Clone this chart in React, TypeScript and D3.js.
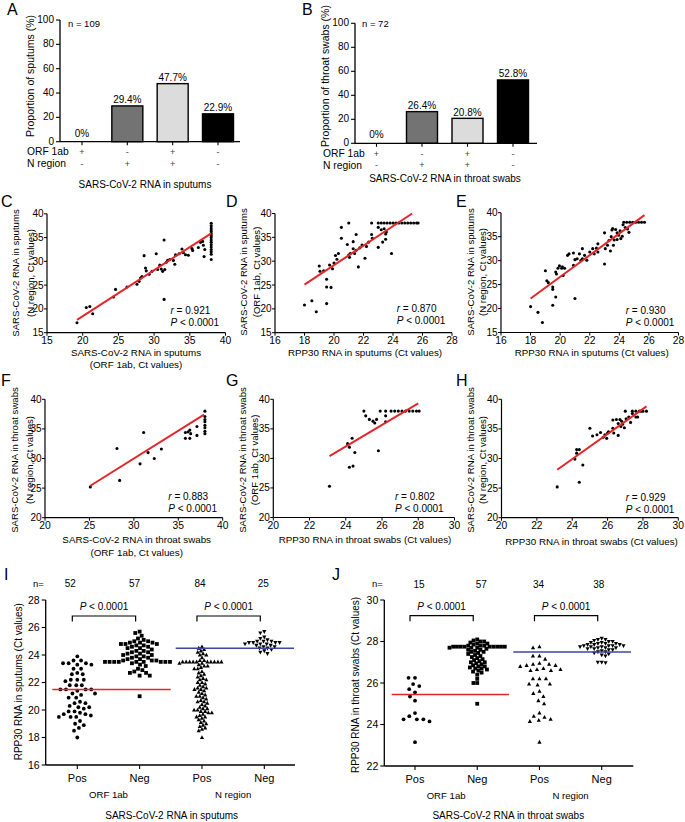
import React from "react";
import * as d3 from "d3";

const FONT = "'Liberation Sans', Arial, Helvetica, sans-serif";
const RED = "#e4262b";
const BLUE = "#3b47a6";

// ---------------- Panels A / B data ----------------
const barGroups = ["ORF+N-", "ORF-N+", "ORF+N+", "ORF-N-"];
const orfSigns = ["+", "-", "+", "-"];
const nSigns = ["-", "+", "+", "-"];
const sputumPct = [0, 29.4, 47.7, 22.9];
const throatPct = [0, 26.4, 20.8, 52.8];
const barFills = ["#ffffff", "#737373", "#dcdcdc", "#000000"];
const pctTicks = [0, 20, 40, 60, 80, 100];

// ---------------- Panels C-H data ----------------
const cPoints: [number, number][] = [
  [19.2, 17.1], [20.5, 20.3], [21.0, 20.5], [21.4, 19.0], [24.3, 22.5], [24.6, 24.1], [26.2, 24.6],
  [27.6, 25.2], [27.9, 25.8], [28.1, 26.5], [28.3, 26.8], [28.6, 31.2], [28.8, 28.6], [28.9, 28.0],
  [29.3, 27.3], [29.7, 27.9], [30.3, 31.6], [30.5, 28.3], [30.8, 29.2], [31.0, 28.4], [31.2, 27.9],
  [31.4, 34.5], [31.4, 22.0], [31.5, 28.3], [31.7, 29.8], [31.9, 30.2], [32.2, 30.4], [32.7, 30.2],
  [32.9, 29.4], [33.0, 31.4], [33.5, 31.6], [33.9, 32.6], [34.1, 31.8], [34.4, 31.4], [34.8, 31.3],
  [35.3, 32.7], [35.4, 32.3], [36.2, 32.9], [36.5, 34.0], [36.8, 34.2], [36.9, 33.4], [37.0, 31.0],
  [37.1, 32.5], [38, 38.0], [38, 37.5], [38, 37.0], [38, 36.6], [38, 36.2], [38, 35.8], [38, 35.4],
  [38, 35.0], [38, 34.5], [38, 34.0], [38, 33.5], [38, 33.0], [38, 32.5], [38, 32.0], [38, 31.5], [38, 30.4],
];
const cFit: [number, number][] = [[19.2, 17.7], [38, 35.9]];

const dPoints: [number, number][] = [
  [18.0, 20.8], [18.5, 21.7], [18.8, 19.4], [19.0, 29.0], [19.05, 27.9], [19.3, 28.0], [19.5, 26.2],
  [19.5, 24.6], [19.5, 21.1], [19.8, 24.5], [19.7, 29.2], [19.9, 28.4], [20.0, 29.6], [20.1, 31.2],
  [20.2, 30.4], [20.3, 31.6], [20.5, 37.1], [20.5, 34.8], [20.9, 33.5], [21.0, 38.0], [21.0, 31.3],
  [21.1, 31.6], [21.05, 30.8], [21.3, 34.1], [21.3, 32.6], [21.4, 31.6], [21.5, 32.3], [21.5, 35.6],
  [21.65, 28.8], [21.75, 32.8], [21.9, 33.4], [22.1, 30.6], [22.2, 33.1], [22.35, 34.0], [22.55, 35.6],
  [22.6, 34.8], [22.55, 38.0], [23.0, 37.1], [23.0, 32.9], [23.2, 36.6], [23.3, 34.0], [23.4, 36.8],
  [23.5, 35.7], [23.5, 34.6], [23.55, 36.1], [23.9, 31.6],
  [23.0, 38], [23.2, 38], [23.4, 38], [23.6, 38], [23.8, 38], [24.0, 38], [24.2, 38], [24.4, 38],
  [24.6, 38], [24.8, 38], [25.0, 38], [25.2, 38], [25.4, 38], [25.6, 38], [25.7, 38],
];
const dFit: [number, number][] = [[18.0, 25.1], [25.3, 40.0]];

const ePoints: [number, number][] = [
  [18.0, 20.4], [18.5, 19.2], [18.8, 17.1], [19.0, 27.9], [19.1, 25.8], [19.2, 25.4], [19.5, 24.5],
  [19.5, 24.0], [19.5, 20.7], [19.7, 22.4], [19.75, 27.2], [19.7, 27.6], [19.85, 28.4], [19.95, 28.9],
  [20.1, 28.4], [20.15, 28.7], [20.3, 28.4], [20.2, 26.9], [20.5, 31.1], [20.6, 31.4], [20.9, 31.6],
  [20.9, 29.0], [21.0, 30.2], [21.0, 22.1], [21.15, 30.4], [21.3, 31.4], [21.4, 30.0], [21.5, 30.4],
  [21.5, 32.5], [21.65, 31.1], [21.8, 30.1], [22.0, 31.8], [22.2, 32.5], [22.3, 31.4], [22.45, 32.6],
  [22.55, 33.5], [22.55, 31.8], [23.0, 29.3], [23.0, 35.8], [23.05, 32.5], [23.2, 33.2], [23.3, 34.2],
  [23.4, 32.0], [23.45, 35.0], [23.5, 36.4], [23.55, 36.7], [23.6, 33.2], [23.65, 34.3], [23.75, 36.5],
  [23.85, 35.8], [23.85, 34.4], [23.95, 35.3], [24.05, 36.2], [24.1, 34.6], [24.2, 35.1], [24.25, 37.5],
  [24.4, 36.9], [24.55, 36.6], [24.65, 35.9],
  [24.3, 38], [24.5, 38], [24.7, 38], [24.9, 38], [25.1, 38], [25.3, 38], [25.5, 38], [25.7, 38],
];
const eFit: [number, number][] = [[18.0, 22.1], [25.7, 39.5]];

const fPoints: [number, number][] = [
  [25.1, 25.2], [28.1, 31.7], [28.4, 26.3], [30.7, 29.1], [31.1, 34.4], [31.6, 31.0], [32.3, 30.0],
  [33.1, 31.6], [35.8, 34.4], [35.8, 33.4], [36.1, 34.5], [36.3, 34.8], [36.4, 34.2], [36.3, 33.4],
  [37.1, 35.4], [37.1, 33.9], [38, 38.0], [38, 37.1], [38, 36.6], [38, 36.2], [38, 35.6], [38, 35.2],
  [38, 34.6], [38, 34.2],
];
const fFit: [number, number][] = [[25.1, 25.4], [37.9, 37.4]];

const gPoints: [number, number][] = [
  [23.1, 25.3], [24.1, 32.5], [24.2, 31.9], [24.2, 28.5], [24.35, 33.4], [24.4, 28.7], [24.5, 31.0],
  [25.0, 38.0], [25.1, 37.2], [25.3, 36.6], [25.5, 36.3], [25.6, 36.0], [25.7, 36.6], [25.8, 31.3],
  [25.9, 38.0], [26.2, 37.2], [26.2, 36.2], [26.2, 38.0],
  [26.5, 38], [26.7, 38], [26.9, 38], [27.1, 38], [27.3, 38], [27.5, 38], [27.7, 38], [27.9, 38], [28.05, 38],
];
const gFit: [number, number][] = [[23.1, 30.4], [28.0, 39.3]];

const hPoints: [number, number][] = [
  [23.15, 25.2], [24.15, 29.9], [24.25, 31.5], [24.25, 30.9], [24.4, 31.5], [24.4, 26.0], [24.6, 28.9],
  [25.0, 35.1], [25.15, 33.8], [25.4, 34.0], [25.6, 34.4], [25.75, 33.6], [25.85, 34.0], [25.95, 33.4],
  [26.0, 34.3], [26.05, 34.5], [26.3, 36.5], [26.3, 35.1], [26.35, 34.3], [26.5, 36.6], [26.6, 35.9],
  [26.6, 33.9], [26.7, 36.6], [26.75, 35.4], [26.8, 36.3], [26.85, 35.8], [26.95, 35.2], [27.0, 38.0],
  [27.05, 36.7], [27.2, 37.0], [27.3, 36.1], [27.4, 37.6], [27.6, 37.0], [27.7, 37.0], [27.8, 38.0],
  [27.4, 38], [27.6, 38], [27.9, 38], [28.0, 38], [28.2, 38],
];
const hFit: [number, number][] = [[23.15, 28.1], [28.2, 38.8]];

const ticksC = [15, 20, 25, 30, 35, 40];
const ticks16to28 = [16, 18, 20, 22, 24, 26, 28];
const ticks20to40 = [20, 25, 30, 35, 40];
const ticks20to30 = [20, 22, 24, 26, 28, 30];

// ---------------- Panels I / J data ----------------
const dotCats = ["ORF Pos", "ORF Neg", "N Pos", "N Neg"];
const dotCatLabels = ["Pos", "Neg", "Pos", "Neg"];
const sputumN = [52, 57, 84, 25];
const throatN = [15, 57, 34, 38];

const iOrfPos = [
  23.9, 23.6, 23.6, 23.4, 23.4, 23.4, 23.3, 23.3, 23.0, 23.0, 22.7, 22.6, 22.6, 22.2, 22.2, 22.2, 22.1,
  21.8, 21.8, 21.8, 21.5, 21.5, 21.5, 21.5, 21.4, 21.2, 21.2, 21.1, 20.9, 20.9, 20.6, 20.5, 20.5, 20.2,
  20.2, 20.1, 19.9, 19.9, 19.8, 19.7, 19.7, 19.6, 19.5, 19.5, 19.5, 19.2, 19.0, 18.9, 18.7, 18.5, 18.0, 20.3,
];
const iOrfNeg = [
  25.7, 25.6, 25.4, 25.2, 25.1, 25.0, 25.0, 24.9, 24.9, 24.9, 24.8, 24.8, 24.8, 24.7, 24.7, 24.6, 24.6,
  24.5, 24.5, 24.4, 24.3, 24.3, 24.2, 24.2, 24.1, 24.1, 24.0, 24.0, 23.9, 23.9, 23.8, 23.8, 23.7, 23.7,
  23.6, 23.6, 23.6, 23.5, 23.5, 23.5, 23.5, 23.5, 23.5, 23.5, 23.5, 23.5, 23.4, 23.3, 23.2, 23.0, 22.9,
  22.8, 22.7, 22.7, 22.5, 22.5, 21.0,
];
const iNPos = [
  24.6, 24.5, 24.4, 24.3, 24.2, 24.1, 24.0, 24.0, 23.8, 23.6, 23.6,
  23.5, 23.5, 23.5, 23.5, 23.5, 23.5, 23.5, 23.5, 23.5, 23.5, 23.4, 23.4,
  23.3, 23.2, 23.2, 23.1, 23.0, 23.0, 22.8, 22.6, 22.5, 22.3, 22.2, 22.2, 22.0, 22.0,
  21.9, 21.8, 21.7, 21.6, 21.5, 21.5, 21.4, 21.3, 21.2, 21.1, 21.0, 21.0,
  20.9, 20.8, 20.7, 20.6, 20.5, 20.4, 20.3, 20.2, 20.1, 20.0, 20.0,
  19.9, 19.8, 19.8, 19.7, 19.6, 19.5, 19.5, 19.4, 19.3, 19.2, 19.1, 19.0,
  18.9, 18.8, 18.7, 18.6, 18.5, 18.0, 22.7, 22.4, 21.6, 20.6, 19.9, 20.1,
];
const iNNeg = [
  25.7, 25.6, 25.3, 25.2, 25.1, 25.0, 25.0, 25.0, 24.9, 24.9, 24.9, 24.9, 24.8, 24.8, 24.8, 24.7, 24.7,
  24.6, 24.6, 24.5, 24.5, 24.4, 24.3, 24.2, 24.1,
];
const iMeans = [21.5, 24.5];

const jOrfPos = [26.25, 26.25, 25.95, 25.85, 25.7, 25.55, 25.35, 25.15, 24.55, 24.4, 24.25, 24.25, 24.25, 24.15, 23.15];
const jOrfNeg = [
  28.1, 28.05, 28.0, 28.0, 27.95, 27.9, 27.9, 27.85, 27.8, 27.8, 27.8, 27.75, 27.75, 27.75, 27.75, 27.75,
  27.75, 27.75, 27.75, 27.75, 27.7, 27.7, 27.7, 27.65, 27.6, 27.6, 27.5, 27.5, 27.45, 27.4, 27.35, 27.3,
  27.25, 27.2, 27.15, 27.1, 27.0, 27.0, 26.95, 26.9, 26.85, 26.8, 26.8, 26.75, 26.7, 26.65, 26.6, 26.55,
  26.5, 26.4, 26.2, 26.0, 26.0, 25.0, 27.55, 27.05, 26.7,
];
const jNPos = [
  27.7, 27.75, 27.3, 27.15, 27.3, 26.95, 26.85, 26.9, 26.85, 26.9, 26.65, 26.6, 26.65, 26.6, 26.7, 26.2,
  26.2, 26.2, 25.95, 25.9, 25.95, 25.6, 25.5, 25.35, 25.15, 25.0, 24.55, 24.25, 24.35, 24.4, 24.2, 24.15,
  23.15, 26.8,
];
const jNNeg = [
  28.15, 28.1, 28.1, 28.05, 28.0, 28.0, 27.95, 27.95, 27.9, 27.9, 27.9, 27.85, 27.85, 27.8, 27.8, 27.8,
  27.8, 27.75, 27.75, 27.75, 27.7, 27.7, 27.7, 27.65, 27.65, 27.6, 27.6, 27.55, 27.5, 27.5, 27.45, 27.4,
  27.35, 27.3, 27.0, 27.0, 26.98, 27.85,
];
const jMeans = [25.45, 27.5];

const ticksI = [16, 18, 20, 22, 24, 26, 28];
const ticksJ = [22, 24, 26, 28, 30];

// ---------------- helpers ----------------
const T = (props: any) => <text fontFamily={FONT} fill="#000" {...props} />;

function swarm(values: number[], y: (v: number) => number, d: number) {
  const pts = values.map((v) => ({ v, py: y(v), dx: 0 })).sort((a, b) => a.py - b.py);
  const placed: { py: number; dx: number }[] = [];
  for (const p of pts) {
    const near = placed.filter((q) => Math.abs(q.py - p.py) < d);
    const ivs = near.map((q) => {
      const w = Math.sqrt(d * d - (q.py - p.py) ** 2);
      return [q.dx - w, q.dx + w];
    });
    const cands = [0];
    ivs.forEach(([a, b]) => cands.push(a, b));
    cands.sort((a, b) => Math.abs(a) - Math.abs(b) || a - b);
    let best = 0;
    for (const c of cands) {
      if (ivs.every(([a, b]) => c <= a + 1e-6 || c >= b - 1e-6)) { best = c; break; }
    }
    p.dx = best;
    placed.push(p);
  }
  return pts;
}

function Marker({ shape, x, y, s }: { shape: string; x: number; y: number; s: number }) {
  if (shape === "circle") return <circle cx={x} cy={y} r={s * 0.5} fill="#000" />;
  if (shape === "square") return <rect x={x - s / 2} y={y - s / 2} width={s} height={s} fill="#000" />;
  if (shape === "up")
    return <path d={`M${x},${y - s * 0.6}L${x + s * 0.55},${y + s * 0.4}L${x - s * 0.55},${y + s * 0.4}Z`} fill="#000" />;
  return <path d={`M${x},${y + s * 0.6}L${x + s * 0.55},${y - s * 0.4}L${x - s * 0.55},${y - s * 0.4}Z`} fill="#000" />;
}

// ---------------- Bar panel ----------------
function BarPanel(props: any) {
  const { L, values, yLabel, title, n } = props;
  const x = d3.scalePoint().domain(barGroups).range(L.cx);
  const y = d3.scaleLinear().domain([0, 100]).range(L.y);
  const x0 = L.axisX[0];
  const bw = 31;
  return (
    <g>
      <T x={L.letter[0]} y={L.letter[1]} fontSize={16}>{L.name}</T>
      <T x={0} y={0} fontSize={10.5} textAnchor="middle" dy="0.35em"
        transform={`translate(${L.yLabelX},${L.yLabelY}) rotate(-90)`}>{yLabel}</T>
      <T x={L.nPos[0]} y={L.nPos[1]} fontSize={9.5} dy="0.35em">{n}</T>
      {barGroups.map((g, i) =>
        values[i] > 0 ? (
          <rect key={g} x={(x(g) as number) - bw / 2} y={y(values[i])} width={bw}
            height={y(0) - y(values[i])} fill={barFills[i]} stroke="#000" strokeWidth={1.4} />
        ) : null
      )}
      {barGroups.map((g, i) => (
        <T key={"l" + g} x={x(g)} y={y(values[i]) - (values[i] > 0 ? 6 : 8.5)} fontSize={10} textAnchor="middle" dy="0.35em">
          {values[i] + "%"}
        </T>
      ))}
      <line x1={x0} x2={L.axisX[1]} y1={y(0)} y2={y(0)} stroke="#000" strokeWidth={1.3} />
      <line x1={x0} x2={x0} y1={y(0)} y2={y(100)} stroke="#000" strokeWidth={1.3} />
      {pctTicks.map((t) => (
        <g key={t}>
          <line x1={x0 - 4} x2={x0} y1={y(t)} y2={y(t)} stroke="#000" strokeWidth={1.1} />
          <T x={x0 - 6} y={y(t) - 0.5} fontSize={10} textAnchor="end" dy="0.35em">{t}</T>
        </g>
      ))}
      {barGroups.map((g) => (
        <line key={"t" + g} x1={x(g)} x2={x(g)} y1={y(0)} y2={y(0) + 3.5} stroke="#000" strokeWidth={1.1} />
      ))}
      <T x={L.rowX} y={L.row1} fontSize={10.3} dy="0.35em">ORF 1ab</T>
      <T x={L.rowX} y={L.row2} fontSize={10.3} dy="0.35em">N region</T>
      {barGroups.map((g, i) => (
        <g key={"s" + g}>
          <T x={x(g)} y={L.row1} fontSize={9} fill="#444" textAnchor="middle" dy="0.35em">{orfSigns[i]}</T>
          <T x={x(g)} y={L.row2} fontSize={9} fill="#444" textAnchor="middle" dy="0.35em">{nSigns[i]}</T>
        </g>
      ))}
      <T x={L.title[0]} y={L.title[1]} fontSize={10} textAnchor="middle" dy="0.35em">{title}</T>
    </g>
  );
}

// ---------------- Scatter panel ----------------
function Scatter(props: any) {
  const { L, points, fit, xTicks, yTicks, r, yLabel, xLabel } = props;
  const x = d3.scaleLinear().domain(L.xDomain).range(L.xRange);
  const y = d3.scaleLinear().domain(L.yDomain).range(L.yRange);
  const x0 = L.xRange[0];
  const y0 = L.yRange[0];
  const line = d3.line<[number, number]>().x((d) => x(d[0])).y((d) => y(d[1]));
  return (
    <g>
      <T x={L.letter[0]} y={L.letter[1]} fontSize={16}>{L.name}</T>
      <line x1={x0} x2={L.xRange[1]} y1={y0} y2={y0} stroke="#000" strokeWidth={1.2} />
      <line x1={x0} x2={x0} y1={y0} y2={L.yRange[1]} stroke="#000" strokeWidth={1.2} />
      {xTicks.map((t: number) => (
        <g key={"x" + t}>
          <line x1={x(t)} x2={x(t)} y1={y0} y2={y0 + 3} stroke="#000" strokeWidth={1} />
          <T x={x(t)} y={y0 + 8} fontSize={10.3} textAnchor="middle" dy="0.35em">{t}</T>
        </g>
      ))}
      {yTicks.map((t: number) => (
        <g key={"y" + t}>
          <line x1={x0 - 3} x2={x0} y1={y(t)} y2={y(t)} stroke="#000" strokeWidth={1} />
          <T x={x0 - 3.5} y={y(t)} fontSize={10} textAnchor="end" dy="0.35em">{t}</T>
        </g>
      ))}
      {points.map((p: [number, number], i: number) => (
        <circle key={i} cx={x(p[0])} cy={y(p[1])} r={1.55} fill="#000" />
      ))}
      <path d={line(fit) as string} stroke={RED} strokeWidth={2} fill="none" />
      <T x={L.rPos[0]} y={L.rPos[1]} fontSize={10} dy="0.35em">
        <tspan fontStyle="italic">r</tspan> = {r}
      </T>
      <T x={L.rPos[0]} y={L.rPos[1] + 12} fontSize={10} dy="0.35em">
        <tspan fontStyle="italic">P</tspan> &lt; 0.0001
      </T>
      {yLabel.map((s: string, i: number) => (
        <T key={"yl" + i} x={0} y={0} fontSize={9.6} textAnchor="middle" dy="0.35em"
          transform={`translate(${L.yLab[i]},${L.yLabY}) rotate(-90)`}>{s}</T>
      ))}
      {xLabel.map((s: string, i: number) => (
        <T key={"xl" + i} x={L.xLab[0]} y={L.xLab[1] + i * 12.5} fontSize={9.8} textAnchor="middle" dy="0.35em">{s}</T>
      ))}
    </g>
  );
}

// ---------------- Dot plot panel ----------------
function DotPanel(props: any) {
  const { L, groups, means, nVals, yTicks, yLabel, title } = props;
  const x = d3.scalePoint().domain(dotCats).range(L.cx);
  const y = d3.scaleLinear().domain(L.yDomain).range(L.yRange);
  const x0 = L.axisX[0];
  const y0 = L.yRange[0];
  const brackets = [[0, 1], [2, 3]];
  return (
    <g>
      <T x={L.letter[0]} y={L.letter[1]} fontSize={16}>{L.name}</T>
      <T x={L.nLabelX} y={L.nY} fontSize={9.5} dy="0.35em">n=</T>
      {dotCats.map((c, i) => (
        <T key={"n" + c} x={(x(c) as number) + L.nShift[i]} y={L.nY} fontSize={10} textAnchor="middle" dy="0.35em">{nVals[i]}</T>
      ))}
      <line x1={x0} x2={L.axisX[1]} y1={y0} y2={y0} stroke="#000" strokeWidth={1.3} />
      <line x1={x0} x2={x0} y1={y0} y2={L.yRange[1]} stroke="#000" strokeWidth={1.3} />
      {yTicks.map((t: number) => (
        <g key={"y" + t}>
          <line x1={x0 - 4} x2={x0} y1={y(t)} y2={y(t)} stroke="#000" strokeWidth={1.1} />
          <T x={x0 - 6} y={y(t)} fontSize={10.5} textAnchor="end" dy="0.35em">{t}</T>
        </g>
      ))}
      {dotCats.map((c, i) => (
        <g key={"c" + c}>
          <line x1={x(c)} x2={x(c)} y1={y0} y2={y0 + 4} stroke="#000" strokeWidth={1.1} />
          <T x={x(c)} y={y0 + 13} fontSize={11} textAnchor="middle" dy="0.35em">{dotCatLabels[i]}</T>
        </g>
      ))}
      <T x={((x(dotCats[0]) as number) + (x(dotCats[1]) as number)) / 2} y={y0 + 29.5} fontSize={9.6} textAnchor="middle" dy="0.35em">ORF 1ab</T>
      <T x={((x(dotCats[2]) as number) + (x(dotCats[3]) as number)) / 2} y={y0 + 29.5} fontSize={9.6} textAnchor="middle" dy="0.35em">N region</T>
      <T x={L.title[0]} y={L.title[1]} fontSize={10} textAnchor="middle" dy="0.35em">{title}</T>
      <T x={0} y={0} fontSize={10} textAnchor="middle" dy="0.35em"
        transform={`translate(${L.yLabelX},${L.yLabelY}) rotate(-90)`}>{yLabel}</T>
      {groups.map((g: any, gi: number) => {
        const cx = x(dotCats[gi]) as number;
        return swarm(g.values, y, g.d).map((p, k) => (
          <Marker key={gi + "-" + k} shape={g.shape} x={cx + p.dx} y={p.py} s={g.s} />
        ));
      })}
      <line x1={L.meanX[0][0]} x2={L.meanX[0][1]} y1={y(means[0])} y2={y(means[0])} stroke={RED} strokeWidth={1.5} />
      <line x1={L.meanX[1][0]} x2={L.meanX[1][1]} y1={y(means[1])} y2={y(means[1])} stroke={BLUE} strokeWidth={1.5} />
      {brackets.map(([a, b], i) => {
        const xa = (x(dotCats[a]) as number) - 5;
        const xb = (x(dotCats[b]) as number) - 4;
        const top = L.bracketY;
        return (
          <g key={"b" + i}>
            <path d={`M${xa},${top + 5.5}V${top}H${xb}V${top + 5.5}`} fill="none" stroke="#000" strokeWidth={1.2} />
            <T x={(xa + xb) / 2} y={top - 9.5} fontSize={10} textAnchor="middle" dy="0.35em">
              <tspan fontStyle="italic">P</tspan> &lt; 0.0001
            </T>
          </g>
        );
      })}
    </g>
  );
}

// ---------------- layouts ----------------
const LA = { name: "A", letter: [7, 15], cx: [82, 218], y: [141.7, 20], axisX: [60, 240], yLabelX: 30, yLabelY: 76, nPos: [68, 24], rowX: 27, row1: 151.5, row2: 163.5, title: [145, 184] };
const LB = { name: "B", letter: [302, 15], cx: [376.5, 513], y: [143.3, 23.3], axisX: [355, 537], yLabelX: 325, yLabelY: 76, nPos: [362, 24], rowX: 323, row1: 153.5, row2: 165, title: [445, 178] };

const LC = { name: "C", letter: [1, 207], xDomain: [15, 40], yDomain: [15, 40], xRange: [47, 225.5], yRange: [332.7, 213.8], rPos: [170.5, 310.7], yLab: [15.5, 30.5], yLabY: 273, xLab: [136, 352.3] };
const LD = { name: "D", letter: [226, 207], xDomain: [16, 28], yDomain: [15, 40], xRange: [275, 452], yRange: [332.7, 213.5], rPos: [396.7, 308.5], yLab: [244, 256.5], yLabY: 272, xLab: [365, 352.3] };
const LE = { name: "E", letter: [456, 207], xDomain: [16, 28], yDomain: [15, 40], xRange: [501, 678.5], yRange: [332.5, 212.7], rPos: [625.7, 310.7], yLab: [470.5, 482.5], yLabY: 272, xLab: [591.7, 352.3] };
const LF = { name: "F", letter: [1, 386], xDomain: [20, 40], yDomain: [20, 40], xRange: [45, 222.7], yRange: [517.7, 399.3], rPos: [168.3, 496.7], yLab: [14.5, 29.5], yLabY: 460, xLab: [136.7, 540] };
const LG = { name: "G", letter: [226, 386], xDomain: [20, 30], yDomain: [20, 40], xRange: [273.3, 454.5], yRange: [517.5, 399.3], rPos: [395, 496.7], yLab: [242.3, 255], yLabY: 460, xLab: [365, 539.5] };
const LH = { name: "H", letter: [456, 386], xDomain: [20, 30], yDomain: [20, 40], xRange: [501.5, 678.3], yRange: [517.7, 399.3], rPos: [625.7, 497.3], yLab: [470.5, 482.5], yLabY: 460, xLab: [591.5, 541.7] };

const LI = { name: "I", letter: [4, 580], cx: [77.3, 264.3], yDomain: [16, 28], yRange: [765, 600], axisX: [45.7, 295], nLabelX: 33, nY: 583.7, nShift: [-7, -5, -2, -1], meanX: [[52.3, 170.7], [175.7, 294]], bracketY: 616, title: [171.7, 815], yLabelX: 18.3, yLabelY: 681.7 };
const LJ = { name: "J", letter: [332, 580], cx: [415, 601.7], yDomain: [22, 30], yRange: [766, 600], axisX: [384.3, 633.3], nLabelX: 372, nY: 584, nShift: [4, 4, -1, -3], meanX: [[391.7, 509], [513.3, 631]], bracketY: 615.7, title: [508.3, 815], yLabelX: 355, yLabelY: 685 };

export default function App() {
  const iGroups = [
    { values: iOrfPos, shape: "circle", s: 3.8, d: 5.6 },
    { values: iOrfNeg, shape: "square", s: 3.8, d: 4.6 },
    { values: iNPos, shape: "up", s: 3.8, d: 3.5 },
    { values: iNNeg, shape: "down", s: 3.8, d: 4.2 },
  ];
  const jGroups = [
    { values: jOrfPos, shape: "circle", s: 3.8, d: 6.5 },
    { values: jOrfNeg, shape: "square", s: 3.8, d: 3.8 },
    { values: jNPos, shape: "up", s: 3.8, d: 6.5 },
    { values: jNNeg, shape: "down", s: 3.8, d: 3.9 },
  ];
  return (
    <svg width={685} height={822} viewBox="0 0 685 822"
      style={{ position: "absolute", left: 0, top: 0, background: "#fff" }}>
      <rect width={685} height={822} fill="#fff" />
      <BarPanel L={LA} values={sputumPct} yLabel="Proportion of sputums (%)" title="SARS-CoV-2 RNA in sputums" n="n = 109" />
      <BarPanel L={LB} values={throatPct} yLabel="Proportion of throat swabs (%)" title="SARS-CoV-2 RNA in throat swabs" n="n = 72" />

      <Scatter L={LC} points={cPoints} fit={cFit} xTicks={ticksC} yTicks={ticksC} r="0.921"
        yLabel={["SARS-CoV-2 RNA in sputums", "(N region, Ct values)"]}
        xLabel={["SARS-CoV-2 RNA in sputums", "(ORF 1ab, Ct values)"]} />
      <Scatter L={LD} points={dPoints} fit={dFit} xTicks={ticks16to28} yTicks={ticksC} r="0.870"
        yLabel={["SARS-CoV-2 RNA in sputums", "(ORF 1ab, Ct values)"]}
        xLabel={["RPP30 RNA in sputums (Ct values)"]} />
      <Scatter L={LE} points={ePoints} fit={eFit} xTicks={ticks16to28} yTicks={ticksC} r="0.930"
        yLabel={["SARS-CoV-2 RNA in sputums", "(N region, Ct values)"]}
        xLabel={["RPP30 RNA in sputums (Ct values)"]} />
      <Scatter L={LF} points={fPoints} fit={fFit} xTicks={ticks20to40} yTicks={ticks20to40} r="0.883"
        yLabel={["SARS-CoV-2 RNA in throat swabs", "(N region, Ct values)"]}
        xLabel={["SARS-CoV-2 RNA in throat swabs", "(ORF 1ab, Ct values)"]} />
      <Scatter L={LG} points={gPoints} fit={gFit} xTicks={ticks20to30} yTicks={ticks20to40} r="0.802"
        yLabel={["SARS-CoV-2 RNA in throat swabs", "(ORF 1ab, Ct values)"]}
        xLabel={["RPP30 RNA in throat swabs (Ct  values)"]} />
      <Scatter L={LH} points={hPoints} fit={hFit} xTicks={ticks20to30} yTicks={ticks20to40} r="0.929"
        yLabel={["SARS-CoV-2 RNA in throat swabs", "(N region, Ct values)"]}
        xLabel={["RPP30 RNA in throat swabs (Ct  values)"]} />

      <DotPanel L={LI} groups={iGroups} means={iMeans} nVals={sputumN} yTicks={ticksI}
        yLabel="RPP30 RNA in sputums (Ct values)" title="SARS-CoV-2 RNA in sputums" />
      <DotPanel L={LJ} groups={jGroups} means={jMeans} nVals={throatN} yTicks={ticksJ}
        yLabel="RPP30 RNA in throat swabs (Ct values)" title="SARS-CoV-2 RNA in throat swabs" />
    </svg>
  );
}
